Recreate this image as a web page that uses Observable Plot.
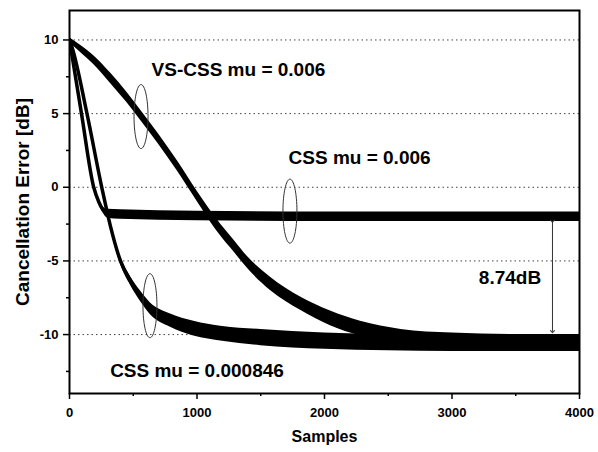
<!DOCTYPE html>
<html>
<head>
<meta charset="utf-8">
<script src="https://cdn.jsdelivr.net/npm/d3@7"></script>
<script src="https://cdn.jsdelivr.net/npm/@observablehq/plot@0.6"></script>
<style>
  html, body { margin: 0; padding: 0; background: white; }
</style>
</head>
<body>
<div id="chart"></div>
<script>
// ---- data ----
// VS-CSS mu = 0.006
const vsX = [0, 100, 188, 322, 450, 557, 700, 850, 1000, 1150, 1300, 1392, 1576, 1812, 2047, 2282, 2600, 3000, 3500, 4000];
const vsY = [10, 9.3, 8.65, 7.4, 6.1, 4.9, 3.25, 1.4, -0.6, -2.5, -4.1, -5.07, -6.55, -7.9, -8.9, -9.6, -10.2, -10.45, -10.55, -10.55];
const vsS = [0.15, 0.25, 0.3, 0.35, 0.35, 0.35, 0.35, 0.35, 0.35, 0.4, 0.4, 0.4, 0.45, 0.45, 0.5, 0.5, 0.55, 0.55, 0.55, 0.55];

// CSS mu = 0.006
const cssAX = [0, 94, 190, 230, 260, 300, 400, 1000, 2000, 3000, 4000];
const cssAY = [10, 5, 0, -1.0, -1.5, -1.8, -1.85, -1.95, -2.0, -2.0, -2.0];
const cssAS = [0.1, 0.1, 0.1, 0.15, 0.2, 0.3, 0.32, 0.32, 0.32, 0.32, 0.32];

// CSS mu = 0.000846
const cssBX = [0, 20, 137, 253, 320, 400, 478, 557, 635, 792, 975, 1200, 1500, 2000, 2500, 3000, 4000];
const cssBY = [10, 9.5, 5, 0, -2.6, -5.0, -6.35, -7.4, -8.25, -9.05, -9.6, -9.95, -10.2, -10.45, -10.55, -10.6, -10.6];
const cssBS = [0.1, 0.1, 0.1, 0.1, 0.15, 0.25, 0.3, 0.35, 0.4, 0.45, 0.5, 0.5, 0.55, 0.55, 0.55, 0.55, 0.55];

const xTicks = [0, 1000, 2000, 3000, 4000];
const xMinor = [500, 1500, 2500, 3500];
const yTicks = [-10, -5, 0, 5, 10];
const yMinor = [-12.5, -7.5, -2.5, 2.5, 7.5];

const labels = ["VS-CSS mu = 0.006", "CSS mu = 0.006", "CSS mu = 0.000846", "8.74dB"];
const labelX = [1325, 2275, 1000, 3455];
const labelY = [8.0, 2.0, -12.45, -6.18];

const ellX = [561, 1729, 631];
const ellY = [4.8, -1.62, -8.04];

const gapX = [3788];
const gapTop = [-2.3];
const gapBottom = [-9.8];

// ---- build tables ----
const mk = (xs, ys, ss) => xs.map((x, i) => ({x, y: ys[i], lo: ys[i] - ss[i], hi: ys[i] + ss[i]}));
const series = [mk(vsX, vsY, vsS), mk(cssAX, cssAY, cssAS), mk(cssBX, cssBY, cssBS)];
const labelData = labels.map((t, i) => ({t, x: labelX[i], y: labelY[i]}));
const ellData = ellX.map((x, i) => ({x, y: ellY[i]}));
const gapData = gapX.map((x, i) => ({x, y1: gapTop[i], y2: gapBottom[i]}));

const ellipse = {
  draw(context, size) {
    const rx = 7, ry = 32, k = 0.5523;
    context.moveTo(rx, 0);
    context.bezierCurveTo(rx, k * ry, k * rx, ry, 0, ry);
    context.bezierCurveTo(-k * rx, ry, -rx, k * ry, -rx, 0);
    context.bezierCurveTo(-rx, -k * ry, -k * rx, -ry, 0, -ry);
    context.bezierCurveTo(k * rx, -ry, rx, -k * ry, rx, 0);
    context.closePath();
  }
};

const curveMarks = series.flatMap(d => [
  Plot.areaY(d, {x: "x", y1: "lo", y2: "hi", fill: "black", clip: true, curve: "monotone-x"}),
  Plot.line(d, {x: "x", y: "y", stroke: "black", strokeWidth: 3.5, clip: true, curve: "monotone-x"})
]);

const chart = Plot.plot({
  width: 598,
  height: 452,
  marginLeft: 69,
  marginRight: 19,
  marginTop: 10,
  marginBottom: 59,
  x: {domain: [0, 4000]},
  y: {domain: [-14, 12]},
  style: {fontFamily: "'Liberation Sans', Arial, sans-serif", fontWeight: "bold", background: "white", color: "black"},
  marks: [
    Plot.ruleY(yTicks, {stroke: "#444", strokeWidth: 1, strokeDasharray: "1.5,3"}),
    ...curveMarks,
    Plot.dot(ellData, {x: "x", y: "y", symbol: ellipse, r: 5, fill: "none", stroke: "#333", strokeWidth: 1}),
    Plot.link(gapData, {x1: "x", x2: "x", y1: "y1", y2: "y2", stroke: "#333", strokeWidth: 1, markerStart: "arrow", markerEnd: "arrow"}),
    Plot.text(labelData, {x: "x", y: "y", text: "t", fontSize: 19, fontWeight: "bold", fill: "black"}),
    Plot.frame({stroke: "black", strokeWidth: 2}),
    Plot.axisX(xTicks, {tickSize: 6, tickPadding: 8, fontSize: 13, label: null, tickFormat: d => String(d), strokeWidth: 1.5}),
    Plot.axisX(xMinor, {tickSize: 3, text: null, label: null, strokeWidth: 1.5}),
    Plot.axisY(yTicks, {tickSize: 6, tickPadding: 5, fontSize: 13, label: null, tickFormat: d => String(d), strokeWidth: 1.5}),
    Plot.axisY(yMinor, {tickSize: 3, text: null, label: null, strokeWidth: 1.5}),
    Plot.text(["Samples"], {frameAnchor: "bottom", dy: 48, fontSize: 16, fontWeight: "bold"}),
    Plot.text(["Cancellation Error [dB]"], {frameAnchor: "left", textAnchor: "middle", rotate: -90, dx: -47, fontSize: 19, fontWeight: "bold"})
  ]
});
document.getElementById("chart").appendChild(chart);
</script>
</body>
</html>
